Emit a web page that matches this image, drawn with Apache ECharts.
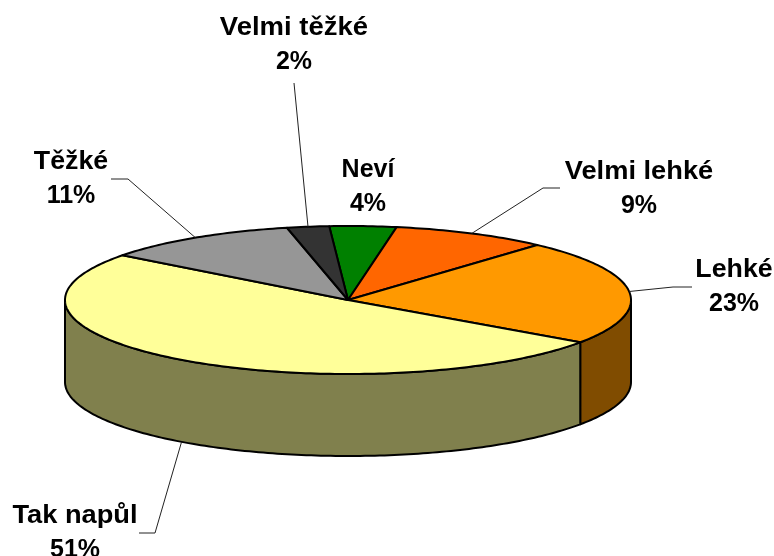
<!DOCTYPE html>
<html>
<head>
    <meta charset="UTF-8">
    <title>Obtížnost</title>
    <script src="https://cdn.jsdelivr.net/npm/echarts@6/dist/echarts.min.js"></script>
    <style>
        html, body { margin: 0; padding: 0; background: #fff; }
        #chart { width: 774px; height: 556px; }
    </style>
</head>
<body>
    <div id="chart"></div>
    <script>
    // hodnoty, poradi po smeru hodinovych rucicek od horniho okraje
    var categories = ['Neví', 'Velmi lehké', 'Lehké', 'Tak napůl', 'Těžké', 'Velmi těžké'];
    var values = [3.8, 8.9, 23, 50.6, 11.2, 2.4];
    var topColors = ['#008000', '#FF6600', '#FF9900', '#FFFF99', '#969696', '#333333'];
    var sideColors = ['#004000', '#803300', '#804C00', '#80804D', '#4B4B4B', '#1A1A1A'];

    // stred popisku (x, y prvniho radku)
    var labelX = [368, 639, 734, 75, 71, 294];
    var labelY = [170, 172, 270, 516, 162, 28];
    // originalni pismo je prostrkane, nazvy trochu roztahneme
    var labelStretch = [1, 1.09, 1.07, 1.09, 1.07, 1.1];
    var lineGap = 34.5;
    // lomene cary od popisku k vysece, posledni bod se dopocita z uhlu
    var leaders = [
        null,
        [[560, 188], [543, 188]],
        [[692, 287], [673, 287]],
        [[139, 533], [155, 533]],
        [[111, 179], [128, 179]],
        [[294, 83]]
    ];

    var cx = 348, cy = 300, rx = 283, ry = 74, depth = 82;
    var startAngle = 93.8;

    var total = values.reduce(function (a, b) { return a + b; }, 0);

    // uhly vysecek ve stupnich, jdou dolu od startAngle
    function sliceAngles(idx) {
        var before = 0;
        for (var i = 0; i < idx; i++) before += values[i];
        var from = startAngle - before / total * 360;
        return [from, from - values[idx] / total * 360];
    }

    function ellipsePoint(deg, dy) {
        var r = deg * Math.PI / 180;
        return [cx + rx * Math.cos(r), cy - ry * Math.sin(r) + (dy || 0)];
    }

    function arcPoints(from, to, dy) {
        var pts = [];
        var steps = Math.max(2, Math.ceil(Math.abs(from - to)));
        for (var i = 0; i <= steps; i++) {
            pts.push(ellipsePoint(from + (to - from) * i / steps, dy));
        }
        return pts;
    }

    function renderSide(params, api) {
        var idx = params.dataIndex;
        var a = sliceAngles(idx);
        // plast je videt jen na spodni polovine (180 az 360, tedy -180 az 0)
        var from = a[0], to = a[1];
        var k = Math.floor((from + 180) / 360);
        var lo = Math.max(to, -180 + 360 * k), hi = Math.min(from, 0 + 360 * k);
        if (hi <= lo) return { type: 'group', children: [] };
        var pts = arcPoints(hi, lo, 0).concat(arcPoints(lo, hi, depth));
        return {
            type: 'polygon',
            shape: { points: pts },
            style: { fill: sideColors[idx], stroke: '#000', lineWidth: 2, lineJoin: 'round' }
        };
    }

    function renderTop(params, api) {
        var idx = params.dataIndex;
        var a = sliceAngles(idx);
        var pts = [[cx, cy]].concat(arcPoints(a[0], a[1], 0));
        return {
            type: 'polygon',
            shape: { points: pts },
            style: { fill: topColors[idx], stroke: '#000', lineWidth: 2, lineJoin: 'round' }
        };
    }

    function renderLabel(params, api) {
        var idx = params.dataIndex;
        var a = sliceAngles(idx);
        var mid = (a[0] + a[1]) / 2;
        var children = [];
        if (leaders[idx]) {
            var s = Math.sin(mid * Math.PI / 180);
            var end = ellipsePoint(mid, s < 0 ? depth : 0);
            children.push({
                type: 'polyline',
                shape: { points: leaders[idx].concat([end]) },
                style: { fill: null, stroke: '#222', lineWidth: 1 }
            });
        }
        var pct = Math.round(values[idx] / total * 100) + '%';
        [categories[idx], pct].forEach(function (line, n) {
            children.push({
                type: 'text',
                x: labelX[idx],
                y: labelY[idx] + n * lineGap,
                scaleX: n === 0 ? labelStretch[idx] : 1,
                style: {
                    x: 0,
                    y: 0,
                    text: line,
                    fill: '#000',
                    font: 'bold 25px "Liberation Sans", Arial, sans-serif',
                    align: 'center',
                    verticalAlign: 'middle'
                }
            });
        });
        return { type: 'group', children: children };
    }

    var data = values.map(function (v, i) { return { name: categories[i], value: v }; });

    var myChart = echarts.init(document.getElementById('chart'), null, { renderer: 'canvas' });
    myChart.setOption({
        animation: false,
        backgroundColor: '#fff',
        tooltip: { show: false },
        series: [
            { type: 'custom', coordinateSystem: 'none', silent: true, z: 1, renderItem: renderSide, data: data },
            { type: 'custom', coordinateSystem: 'none', silent: true, z: 2, renderItem: renderTop, data: data },
            { type: 'custom', coordinateSystem: 'none', silent: true, z: 3, renderItem: renderLabel, data: data }
        ]
    });
    </script>
</body>
</html>
